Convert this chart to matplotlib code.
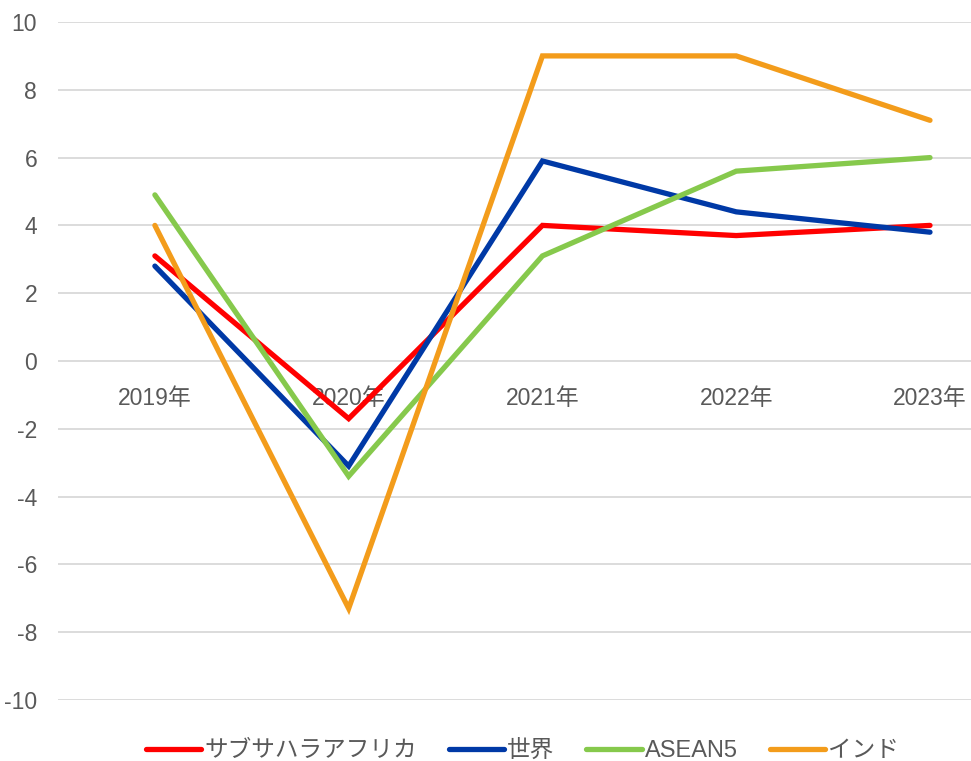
import matplotlib.pyplot as plt

plt.rcParams['font.family'] = ['Liberation Sans', 'Noto Sans CJK JP', 'DejaVu Sans']
plt.rcParams['axes.unicode_minus'] = False

years = ['2019年', '2020年', '2021年', '2022年', '2023年']
ssa = [3.1, -1.7, 4.0, 3.7, 4.0]
world = [2.8, -3.1, 5.9, 4.4, 3.8]
asean5 = [4.9, -3.4, 3.1, 5.6, 6.0]
india = [4.0, -7.3, 9.0, 9.0, 7.1]

series = [('サブサハラアフリカ', ssa, '#FF0000'),
          ('世界', world, '#0039A6'),
          ('ASEAN5', asean5, '#86C94C'),
          ('インド', india, '#F39C1B')]

fig = plt.figure(figsize=(9.71, 7.61), dpi=100)
ax = fig.add_axes([58/971, 1-700/761, 1-58/971, (700-22)/761])
x = range(len(years))
for name, vals, col in series:
    ax.plot(x, vals, color=col, lw=3.8, label=name, solid_capstyle='round', solid_joinstyle='miter')

ax.set_ylim(-10, 10)
ax.set_xlim(-0.5, (971-155)/193.75)
ax.set_yticks(range(-10, 11, 2))
ax.set_xticks(list(x)); ax.set_xticklabels(years)
ax.grid(axis='y', color='#d9d9d9', lw=1.3)
ax.set_axisbelow(True)
for s in ['left', 'right', 'top']:
    ax.spines[s].set_visible(False)
ax.spines['bottom'].set_position(('data', 0))
ax.spines['bottom'].set_visible(False)
ax.tick_params(axis='x', length=0, pad=19, labelsize=16.5, labelcolor='#595959')
ax.tick_params(axis='y', length=0, pad=15, labelsize=16.5, labelcolor='#595959')

fig.legend(loc='center', bbox_to_anchor=(0.538, 0.013), ncol=4, frameon=False,
           fontsize=17, labelcolor='#595959', handlelength=2.35, handletextpad=0.13,
           columnspacing=1.35)
fig.savefig('out.png', dpi=100)
